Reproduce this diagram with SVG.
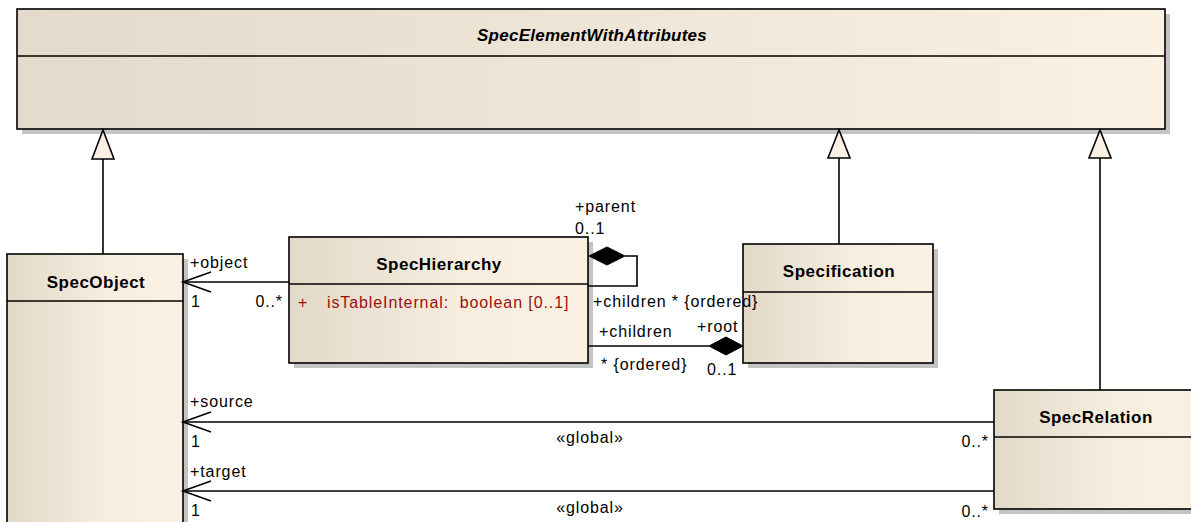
<svg xmlns="http://www.w3.org/2000/svg" width="1191" height="522" viewBox="0 0 1191 522">
<style>
.box{stroke:#000;stroke-width:1.6}
.shadow{fill:#c4c4c4}
.div{stroke:#000;stroke-width:1.6}
.title{font-family:"Liberation Sans",Arial,sans-serif;font-size:17px;font-weight:bold;letter-spacing:0.5px;fill:#000}
.lbl{font-family:"Liberation Sans",Arial,sans-serif;font-size:16px;letter-spacing:0.9px;fill:#000}
.attr{font-family:"Liberation Sans",Arial,sans-serif;font-size:16px;letter-spacing:0.9px;fill:#9a1010;white-space:pre}
.line{stroke:#000;stroke-width:1.6;fill:none}
.tri{fill:#faf1e4;stroke:#000;stroke-width:1.6}
.dia{fill:#000;stroke:#000;stroke-width:1}
</style>
<defs>
<linearGradient id="g" x1="0" y1="0" x2="1" y2="0">
<stop offset="0" stop-color="#e3d9c9"/>
<stop offset="0.6" stop-color="#f8eee0"/>
<stop offset="1" stop-color="#faf1e3"/>
</linearGradient>
<linearGradient id="gTop" x1="0" y1="0" x2="1" y2="0">
<stop offset="0" stop-color="#e4dacb"/>
<stop offset="0.5" stop-color="#efe5d7"/>
<stop offset="1" stop-color="#faf1e3"/>
</linearGradient>
</defs>

<g id="SpecElementWithAttributes">
<rect class="shadow" x="22" y="14" width="1148" height="120"/>
<rect class="box" x="17" y="9" width="1148" height="120" fill="url(#gTop)"/>
<line class="div" x1="17" y1="56" x2="1165" y2="56"/>
<text class="title" x="592" y="41" text-anchor="middle" font-style="italic" style="letter-spacing:0.25px">SpecElementWithAttributes</text>
</g>

<g id="SpecObject">
<rect class="shadow" x="12" y="259" width="176" height="280"/>
<rect class="box" x="7" y="254" width="176" height="280" fill="url(#g)"/>
<line class="div" x1="7" y1="301" x2="183" y2="301"/>
<text class="title" x="96" y="288" text-anchor="middle">SpecObject</text>
</g>

<g id="SpecHierarchy">
<rect class="shadow" x="294" y="242" width="299" height="126"/>
<rect class="box" x="289" y="237" width="299" height="126" fill="url(#g)"/>
<line class="div" x1="289" y1="284" x2="588" y2="284"/>
<text class="title" x="439" y="270" text-anchor="middle">SpecHierarchy</text>
<text class="attr" x="298" y="308">+</text>
<text class="attr" x="327" y="308">isTableInternal:  boolean [0..1]</text>
</g>

<g id="Specification">
<rect class="shadow" x="748" y="249" width="190" height="119"/>
<rect class="box" x="743" y="244" width="190" height="119" fill="url(#g)"/>
<line class="div" x1="743" y1="292" x2="933" y2="292"/>
<text class="title" x="839" y="277" text-anchor="middle">Specification</text>
</g>

<g id="SpecRelation">
<rect class="shadow" x="999" y="395" width="204" height="119"/>
<rect class="box" x="994" y="390" width="204" height="119" fill="url(#g)"/>
<line class="div" x1="994" y1="437" x2="1198" y2="437"/>
<text class="title" x="1096" y="423" text-anchor="middle">SpecRelation</text>
</g>

<g id="connectors">
<!-- generalizations -->
<line class="line" x1="103" y1="158" x2="103" y2="254"/>
<polygon class="tri" points="103,130 92,159 114,159"/>
<line class="line" x1="839" y1="158" x2="839" y2="244"/>
<polygon class="tri" points="839,130 828,158 850,158"/>
<line class="line" x1="1100" y1="158" x2="1100" y2="390"/>
<polygon class="tri" points="1100,130 1089,158 1111,158"/>

<!-- object association -->
<line class="line" x1="289" y1="282" x2="183" y2="282"/>
<polyline class="line" points="211,272 183,282 211,292"/>
<text class="lbl" x="190" y="268">+object</text>
<text class="lbl" x="191" y="307">1</text>
<text class="lbl" x="283" y="307" text-anchor="end">0..*</text>

<!-- self loop parent/children -->
<polyline class="line" points="625,256 637,256 637,286 588,286"/>
<polygon class="dia" points="589,256 607,247 625,256 607,265"/>
<text class="lbl" x="575" y="212">+parent</text>
<text class="lbl" x="575" y="234">0..1</text>
<text class="lbl" x="593" y="307">+children * {ordered}</text>

<!-- root composition -->
<line class="line" x1="588" y1="346" x2="709" y2="346"/>
<polygon class="dia" points="709,346 726,337 743,346 726,355"/>
<text class="lbl" x="599" y="337">+children</text>
<text class="lbl" x="601" y="370">* {ordered}</text>
<text class="lbl" x="697" y="332">+root</text>
<text class="lbl" x="707" y="375">0..1</text>

<!-- source -->
<line class="line" x1="994" y1="422" x2="183" y2="422"/>
<polyline class="line" points="211,412 183,422 211,432"/>
<text class="lbl" x="190" y="407">+source</text>
<text class="lbl" x="191" y="447">1</text>
<text class="lbl" x="590" y="443" text-anchor="middle">«global»</text>
<text class="lbl" x="989" y="447" text-anchor="end">0..*</text>

<!-- target -->
<line class="line" x1="994" y1="491" x2="183" y2="491"/>
<polyline class="line" points="211,481 183,491 211,501"/>
<text class="lbl" x="190" y="477">+target</text>
<text class="lbl" x="191" y="516">1</text>
<text class="lbl" x="590" y="513" text-anchor="middle">«global»</text>
<text class="lbl" x="989" y="517" text-anchor="end">0..*</text>
</g>
</svg>
